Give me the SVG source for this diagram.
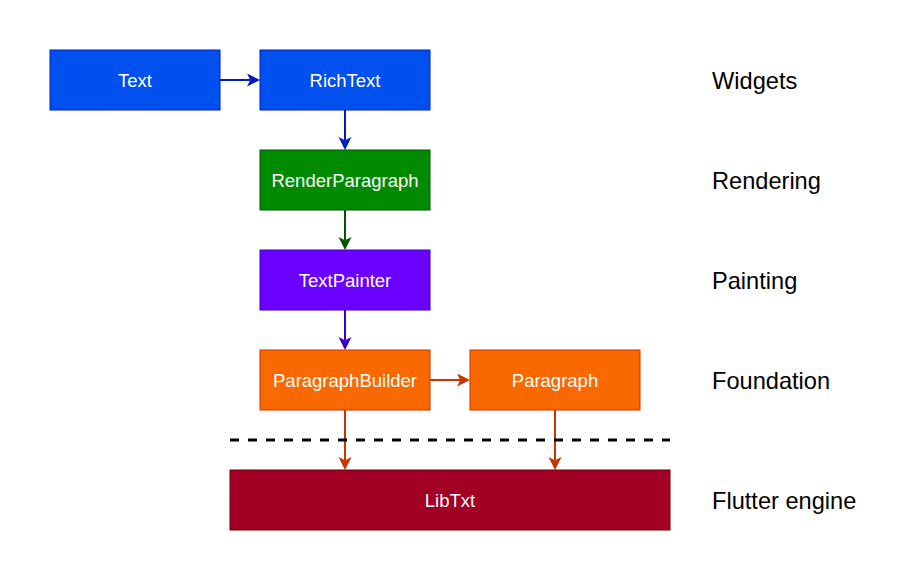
<svg xmlns="http://www.w3.org/2000/svg" width="921" height="581" viewBox="0 0 921 581">
<style>
.box{stroke-width:1}
.lbl{font-family:"Liberation Sans",Arial,Helvetica,sans-serif;font-size:18.5px;fill:#ffffff;text-anchor:middle}
.layer{font-family:"Liberation Sans",Arial,Helvetica,sans-serif;font-size:23.6px;fill:#000000}
.edge{fill:none;stroke-width:2}
</style>
<defs>
<marker id="aBlue" markerUnits="userSpaceOnUse" markerWidth="14" markerHeight="14" refX="3" refY="6.5" orient="auto"><path d="M0,0 L13,6.5 L0,13 L3.25,6.5 z" fill="#001DBC"/></marker>
<marker id="aGreen" markerUnits="userSpaceOnUse" markerWidth="14" markerHeight="14" refX="3" refY="6.5" orient="auto"><path d="M0,0 L13,6.5 L0,13 L3.25,6.5 z" fill="#005700"/></marker>
<marker id="aPurple" markerUnits="userSpaceOnUse" markerWidth="14" markerHeight="14" refX="3" refY="6.5" orient="auto"><path d="M0,0 L13,6.5 L0,13 L3.25,6.5 z" fill="#3700CC"/></marker>
<marker id="aOrange" markerUnits="userSpaceOnUse" markerWidth="14" markerHeight="14" refX="3" refY="6.5" orient="auto"><path d="M0,0 L13,6.5 L0,13 L3.25,6.5 z" fill="#C73500"/></marker>
</defs>
<rect width="921" height="581" fill="#ffffff"/>
<g id="connectors">
<path class="edge" d="M220,80 L250,80" stroke="#001DBC" marker-end="url(#aBlue)"/>
<path class="edge" d="M345,110 L345,140" stroke="#001DBC" marker-end="url(#aBlue)"/>
<path class="edge" d="M345,210 L345,240" stroke="#005700" marker-end="url(#aGreen)"/>
<path class="edge" d="M345,310 L345,340" stroke="#3700CC" marker-end="url(#aPurple)"/>
<path class="edge" d="M430,380 L460,380" stroke="#C73500" marker-end="url(#aOrange)"/>
<path class="edge" d="M345,410 L345,460" stroke="#C73500" marker-end="url(#aOrange)"/>
<path class="edge" d="M555,410 L555,460" stroke="#C73500" marker-end="url(#aOrange)"/>
</g>
<g id="divider">
<line x1="230" y1="440" x2="670" y2="440" stroke="#000000" stroke-width="3" stroke-dasharray="9 9"/>
</g>
<g id="n-text"><rect class="box" x="50" y="50" width="170" height="60" fill="#0050EF" stroke="#001DBC"/><text class="lbl" x="135" y="87">Text</text></g>
<g id="n-richtext"><rect class="box" x="260" y="50" width="170" height="60" fill="#0050EF" stroke="#001DBC"/><text class="lbl" x="345" y="87">RichText</text></g>
<g id="n-renderparagraph"><rect class="box" x="260" y="150" width="170" height="60" fill="#008A00" stroke="#005700"/><text class="lbl" x="345" y="187">RenderParagraph</text></g>
<g id="n-textpainter"><rect class="box" x="260" y="250" width="170" height="60" fill="#6A00FF" stroke="#3700CC"/><text class="lbl" x="345" y="287">TextPainter</text></g>
<g id="n-paragraphbuilder"><rect class="box" x="260" y="350" width="170" height="60" fill="#FA6800" stroke="#C73500"/><text class="lbl" x="345" y="387">ParagraphBuilder</text></g>
<g id="n-paragraph"><rect class="box" x="470" y="350" width="170" height="60" fill="#FA6800" stroke="#C73500"/><text class="lbl" x="555" y="387">Paragraph</text></g>
<g id="n-libtxt"><rect class="box" x="230" y="470" width="440" height="60" fill="#A20025" stroke="#6F0000"/><text class="lbl" x="450" y="507">LibTxt</text></g>
<g id="layers">
<text class="layer" x="712" y="89">Widgets</text>
<text class="layer" x="712" y="189">Rendering</text>
<text class="layer" x="712" y="289">Painting</text>
<text class="layer" x="712" y="389">Foundation</text>
<text class="layer" x="712" y="509">Flutter engine</text>
</g>
</svg>
